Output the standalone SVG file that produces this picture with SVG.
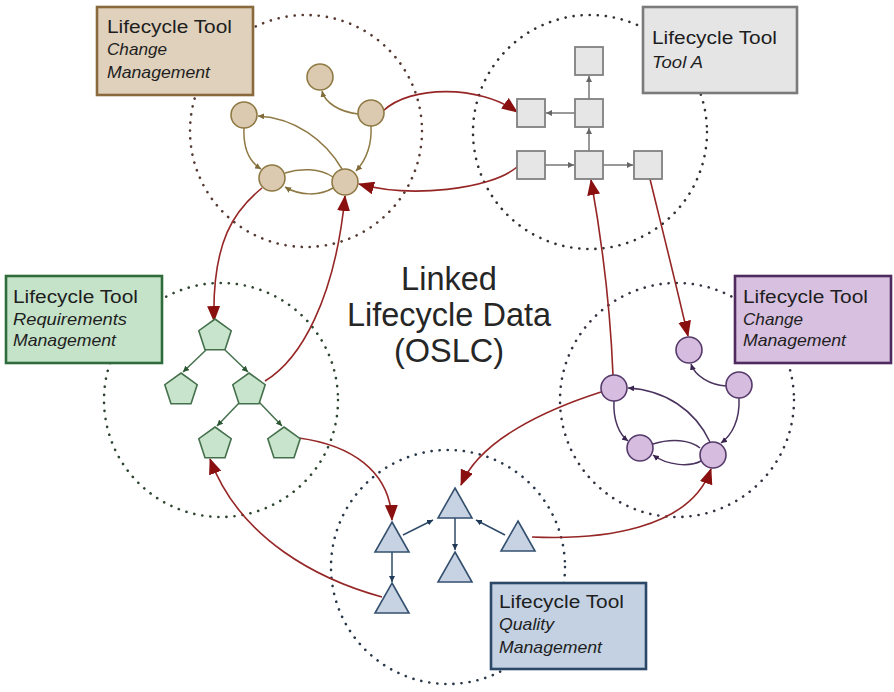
<svg xmlns="http://www.w3.org/2000/svg" width="894" height="692" viewBox="0 0 894 692">
  <defs>
    <style>
      .zone { fill: none; stroke-width: 2.6; stroke-dasharray: 0.1 8; stroke-linecap: round; }
      .box { stroke-width: 2.6; }
      .title { font-family: "Liberation Sans", Arial, sans-serif; font-size: 18px; fill: #1e1e1e; }
      .sub { font-family: "Liberation Sans", Arial, sans-serif; font-size: 16.5px; font-style: italic; fill: #1e1e1e; }
      .center { font-family: "Liberation Sans", Arial, sans-serif; font-size: 32.5px; fill: #262626; text-anchor: middle; }
      .link { fill: none; stroke: #962626; stroke-width: 1.6; marker-end: url(#redArrow); }
      .e-tan { fill: none; stroke: #8f7a45; stroke-width: 1.5; }
      .e-gray { fill: none; stroke: #777; stroke-width: 1.5; }
      .e-green { fill: none; stroke: #44704c; stroke-width: 1.5; }
      .e-purple { fill: none; stroke: #4a335e; stroke-width: 1.5; }
      .e-blue { fill: none; stroke: #2f4b6a; stroke-width: 1.5; }
      .tan { fill: #dccab0; stroke: #8f7a45; stroke-width: 1.6; }
      .gray { fill: #e6e6e6; stroke: #808080; stroke-width: 1.8; }
      .green { fill: #c9e4cc; stroke: #44704c; stroke-width: 1.6; }
      .purple { fill: #d6bde0; stroke: #553a6a; stroke-width: 1.6; }
      .blue { fill: #c7d3e3; stroke: #34506f; stroke-width: 1.6; }
    </style>
    <marker id="redArrow" viewBox="0 0 16 13" refX="15" refY="6.5" markerWidth="16" markerHeight="13" markerUnits="userSpaceOnUse" orient="auto">
      <path d="M0,0 L16,6.5 L0,13 z" fill="#8a1010"/>
    </marker>
    <marker id="aTan" viewBox="0 0 6 6" refX="6" refY="3" markerWidth="6" markerHeight="6" markerUnits="userSpaceOnUse" orient="auto">
      <path d="M0,0 L6,3 L0,6 z" fill="#7f6a38"/>
    </marker>
    <marker id="aGray" viewBox="0 0 6 6" refX="6" refY="3" markerWidth="6" markerHeight="6" markerUnits="userSpaceOnUse" orient="auto">
      <path d="M0,0 L6,3 L0,6 z" fill="#666"/>
    </marker>
    <marker id="aGreen" viewBox="0 0 6 6" refX="6" refY="3" markerWidth="6" markerHeight="6" markerUnits="userSpaceOnUse" orient="auto">
      <path d="M0,0 L6,3 L0,6 z" fill="#2a5632"/>
    </marker>
    <marker id="aPurple" viewBox="0 0 6 6" refX="6" refY="3" markerWidth="6" markerHeight="6" markerUnits="userSpaceOnUse" orient="auto">
      <path d="M0,0 L6,3 L0,6 z" fill="#3a2450"/>
    </marker>
    <marker id="aBlue" viewBox="0 0 6 6" refX="6" refY="3" markerWidth="6" markerHeight="6" markerUnits="userSpaceOnUse" orient="auto">
      <path d="M0,0 L6,3 L0,6 z" fill="#203a58"/>
    </marker>
    <path id="pent" d="M0,-17 L16.2,-5.3 L10,13.8 L-10,13.8 L-16.2,-5.3 z"/>
    <path id="tri" d="M0,0 L17,30 L-17,30 z"/>
  </defs>

  <rect width="894" height="692" fill="#fff"/>

  <!-- tool zones -->
  <g id="zones">
    <circle class="zone" cx="306" cy="131" r="116" stroke="#543a30"/>
    <circle class="zone" cx="590" cy="132" r="117" stroke="#303030"/>
    <circle class="zone" cx="221" cy="400" r="117" stroke="#2c4630"/>
    <circle class="zone" cx="677" cy="400" r="117" stroke="#383040"/>
    <circle class="zone" cx="448" cy="567" r="117" stroke="#28374a"/>
  </g>

  <!-- links inside each tool -->
  <g id="tool-edges">
    <path class="e-tan" d="M358,114 C340,112 325,103 322,91" marker-end="url(#aTan)"/>
    <path class="e-tan" d="M371,126 C372,145 366,160 356,171" marker-end="url(#aTan)"/>
    <path class="e-tan" d="M342,169 C325,140 295,118 258,116" marker-end="url(#aTan)"/>
    <path class="e-tan" d="M244,128 C243,150 250,162 261,169" marker-end="url(#aTan)"/>
    <path class="e-tan" d="M285,173 C300,168 320,168 333,177"/>
    <path class="e-tan" d="M333,188 C320,196 300,196 285,187" marker-end="url(#aTan)"/>

    <path class="e-gray" d="M589,99 L589,76" marker-end="url(#aGray)"/>
    <path class="e-gray" d="M575,113 L546,113" marker-end="url(#aGray)"/>
    <path class="e-gray" d="M589,151 L589,128" marker-end="url(#aGray)"/>
    <path class="e-gray" d="M545,165 L574,165" marker-end="url(#aGray)"/>
    <path class="e-gray" d="M603,165 L633,165" marker-end="url(#aGray)"/>

    <path class="e-green" d="M206,350 L183,372" marker-end="url(#aGreen)"/>
    <path class="e-green" d="M225,350 L248,372" marker-end="url(#aGreen)"/>
    <path class="e-green" d="M240,402 L217,426" marker-end="url(#aGreen)"/>
    <path class="e-green" d="M259,402 L282,426" marker-end="url(#aGreen)"/>

    <path class="e-purple" d="M726,386 C710,385 695,376 691,364" marker-end="url(#aPurple)"/>
    <path class="e-purple" d="M739,398 C740,420 732,435 721,443" marker-end="url(#aPurple)"/>
    <path class="e-purple" d="M710,442 C695,410 665,390 628,388" marker-end="url(#aPurple)"/>
    <path class="e-purple" d="M614,401 C613,420 619,434 628,441" marker-end="url(#aPurple)"/>
    <path class="e-purple" d="M653,444 C672,438 690,440 700,448"/>
    <path class="e-purple" d="M701,461 C690,467 668,466 653,455" marker-end="url(#aPurple)"/>

    <path class="e-blue" d="M403,535 L433,520" marker-end="url(#aBlue)"/>
    <path class="e-blue" d="M505,535 L476,520" marker-end="url(#aBlue)"/>
    <path class="e-blue" d="M455,518 L455,550" marker-end="url(#aBlue)"/>
    <path class="e-blue" d="M392,552 L392,582" marker-end="url(#aBlue)"/>
  </g>

  <!-- links between tools -->
  <g id="connectors">
    <path class="link" d="M383,111 C410,85 480,85 517,112"/>
    <path class="link" d="M517,167 C490,190 410,198 359,184"/>
    <path class="link" d="M262,188 C235,210 212,240 214,321"/>
    <path class="link" d="M265,381 C300,360 335,300 345,196"/>
    <path class="link" d="M650,179 C660,220 675,280 688,336"/>
    <path class="link" d="M613,375 C610,300 600,230 591,180"/>
    <path class="link" d="M601,392 C545,410 480,440 461,485"/>
    <path class="link" d="M532,537 C600,540 690,530 711,469"/>
    <path class="link" d="M299,438 C350,445 390,470 392,520"/>
    <path class="link" d="M382,597 C320,580 240,540 210,459"/>
  </g>

  <!-- change management (tan) -->
  <g id="cm1-a"><circle class="tan" cx="320" cy="77" r="13"/></g>
  <g id="cm1-b"><circle class="tan" cx="371" cy="113" r="13"/></g>
  <g id="cm1-c"><circle class="tan" cx="244" cy="115" r="13"/></g>
  <g id="cm1-d"><circle class="tan" cx="272" cy="178" r="13"/></g>
  <g id="cm1-e"><circle class="tan" cx="345" cy="182" r="13"/></g>

  <!-- tool A (gray) -->
  <g id="ta-a"><rect class="gray" x="575" y="47" width="28" height="28"/></g>
  <g id="ta-b"><rect class="gray" x="517" y="99" width="28" height="28"/></g>
  <g id="ta-c"><rect class="gray" x="575" y="99" width="28" height="28"/></g>
  <g id="ta-d"><rect class="gray" x="517" y="151" width="28" height="28"/></g>
  <g id="ta-e"><rect class="gray" x="575" y="151" width="28" height="28"/></g>
  <g id="ta-f"><rect class="gray" x="634" y="151" width="28" height="28"/></g>

  <!-- requirements management (green) -->
  <g id="rm-a"><use href="#pent" class="green" x="215" y="336"/></g>
  <g id="rm-b"><use href="#pent" class="green" x="181" y="390"/></g>
  <g id="rm-c"><use href="#pent" class="green" x="249" y="390"/></g>
  <g id="rm-d"><use href="#pent" class="green" x="215" y="444"/></g>
  <g id="rm-e"><use href="#pent" class="green" x="284" y="444"/></g>

  <!-- change management (purple) -->
  <g id="cm2-a"><circle class="purple" cx="689" cy="350" r="13"/></g>
  <g id="cm2-b"><circle class="purple" cx="739" cy="385" r="13"/></g>
  <g id="cm2-c"><circle class="purple" cx="614" cy="388" r="13"/></g>
  <g id="cm2-d"><circle class="purple" cx="640" cy="448" r="13"/></g>
  <g id="cm2-e"><circle class="purple" cx="713" cy="455" r="13"/></g>

  <!-- quality management (blue) -->
  <g id="qm-a"><use href="#tri" class="blue" x="455" y="488"/></g>
  <g id="qm-b"><use href="#tri" class="blue" x="392" y="522"/></g>
  <g id="qm-c"><use href="#tri" class="blue" x="518" y="521"/></g>
  <g id="qm-d"><use href="#tri" class="blue" x="455" y="552"/></g>
  <g id="qm-e"><use href="#tri" class="blue" x="392" y="583"/></g>

  <!-- centre caption -->
  <g id="caption">
    <text class="center" x="449" y="290">Linked</text>
    <text class="center" x="449" y="326">Lifecycle Data</text>
    <text class="center" x="449" y="362">(OSLC)</text>
  </g>

  <!-- tool labels -->
  <g id="tool-change-1">
    <rect class="box" x="97" y="7" width="156" height="88" fill="#dfd1bc" stroke="#8a6a3c"/>
    <text class="title" x="107" y="33" textLength="125" lengthAdjust="spacingAndGlyphs">Lifecycle Tool</text>
    <text class="sub" x="107" y="55" textLength="60" lengthAdjust="spacingAndGlyphs">Change</text>
    <text class="sub" x="107" y="78" textLength="103" lengthAdjust="spacingAndGlyphs">Management</text>
  </g>
  <g id="tool-a">
    <rect class="box" x="643" y="7" width="154" height="86" fill="#e5e5e5" stroke="#7b7b7b"/>
    <text class="title" x="652" y="44" textLength="125" lengthAdjust="spacingAndGlyphs">Lifecycle Tool</text>
    <text class="sub" x="652" y="68" textLength="51" lengthAdjust="spacingAndGlyphs">Tool A</text>
  </g>
  <g id="tool-requirements">
    <rect class="box" x="6" y="276" width="156" height="87" fill="#c5e3c9" stroke="#2f6b3b"/>
    <text class="title" x="13" y="303" textLength="125" lengthAdjust="spacingAndGlyphs">Lifecycle Tool</text>
    <text class="sub" x="13" y="325" textLength="114" lengthAdjust="spacingAndGlyphs">Requirements</text>
    <text class="sub" x="13" y="346" textLength="103" lengthAdjust="spacingAndGlyphs">Management</text>
  </g>
  <g id="tool-change-2">
    <rect class="box" x="735" y="276" width="156" height="87" fill="#d8c0e0" stroke="#4e2a5e"/>
    <text class="title" x="743" y="303" textLength="125" lengthAdjust="spacingAndGlyphs">Lifecycle Tool</text>
    <text class="sub" x="743" y="325" textLength="60" lengthAdjust="spacingAndGlyphs">Change</text>
    <text class="sub" x="743" y="346" textLength="103" lengthAdjust="spacingAndGlyphs">Management</text>
  </g>
  <g id="tool-quality">
    <rect class="box" x="491" y="583" width="155" height="86" fill="#c3d1e2" stroke="#2b4868"/>
    <text class="title" x="499" y="608" textLength="125" lengthAdjust="spacingAndGlyphs">Lifecycle Tool</text>
    <text class="sub" x="499" y="630" textLength="55" lengthAdjust="spacingAndGlyphs">Quality</text>
    <text class="sub" x="499" y="653" textLength="103" lengthAdjust="spacingAndGlyphs">Management</text>
  </g>
</svg>
